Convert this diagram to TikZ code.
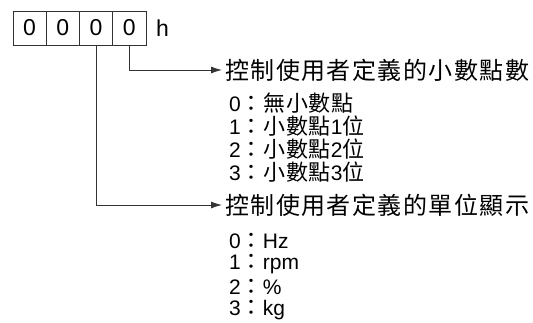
\documentclass[tikz,border=0pt]{standalone}
\usepackage{fontspec}
\setmainfont{Liberation Sans}
\newfontfamily\cjkhead[LetterSpace=6]{Noto Sans CJK TC}
\newfontfamily\cjkitem[LetterSpace=3]{Noto Sans CJK TC}
\newcommand\zh[1]{{\fontsize{22}{22}\selectfont\cjkitem #1}}
\usetikzlibrary{arrows.meta,positioning}
\tikzset{
  digitbox/.style={rectangle, draw=black!80, line width=0.8pt, minimum width=33.25pt,
    minimum height=34pt, inner sep=0pt, font=\fontsize{23}{23}\selectfont},
  head/.style={anchor=west, inner xsep=3pt, inner ysep=0pt, font=\fontsize{24}{24}\selectfont\cjkhead},
  item/.style={anchor=west, inner sep=0pt, font=\fontsize{21}{21}\selectfont},
  link/.style={-{Latex[length=11pt,width=7pt]}, black!80, line width=0.8pt},
}
\begin{document}
\begin{tikzpicture}[x=1pt, y=-1pt]
  \useasboundingbox (0,0) rectangle (533,322);
  \foreach \i in {1,...,4}
    \node[digitbox] (d\i) at ({13+33.25*(\i-0.5)},28) {0};
  \node[anchor=west, inner sep=0pt, font=\fontsize{23}{23}\selectfont] (hex) at (156,28) {h};
  % decimal point setting
  \node[head] (dec) at (222,70) {控制使用者定義的小數點數};
  \node[item] (dec0) at (229,103) {0\zh{：無小數點}};
  \node[item] (dec1) at (229,126) {1\zh{：小數點}1\zh{位}};
  \node[item] (dec2) at (229,149) {2\zh{：小數點}2\zh{位}};
  \node[item] (dec3) at (229,172) {3\zh{：小數點}3\zh{位}};
  % unit setting
  \node[head] (unit) at (222,205) {控制使用者定義的單位顯示};
  \node[item] (unit0) at (229,241) {0\zh{：}Hz};
  \node[item] (unit1) at (229,264) {1\zh{：}rpm};
  \node[item] (unit2) at (229,287) {2\zh{：}\%};
  \node[item] (unit3) at (229,310) {3\zh{：}kg};
  \draw[link] (d4.south) |- (dec.west);
  \draw[link] (d3.south) |- (unit.west);
\end{tikzpicture}
\end{document}
